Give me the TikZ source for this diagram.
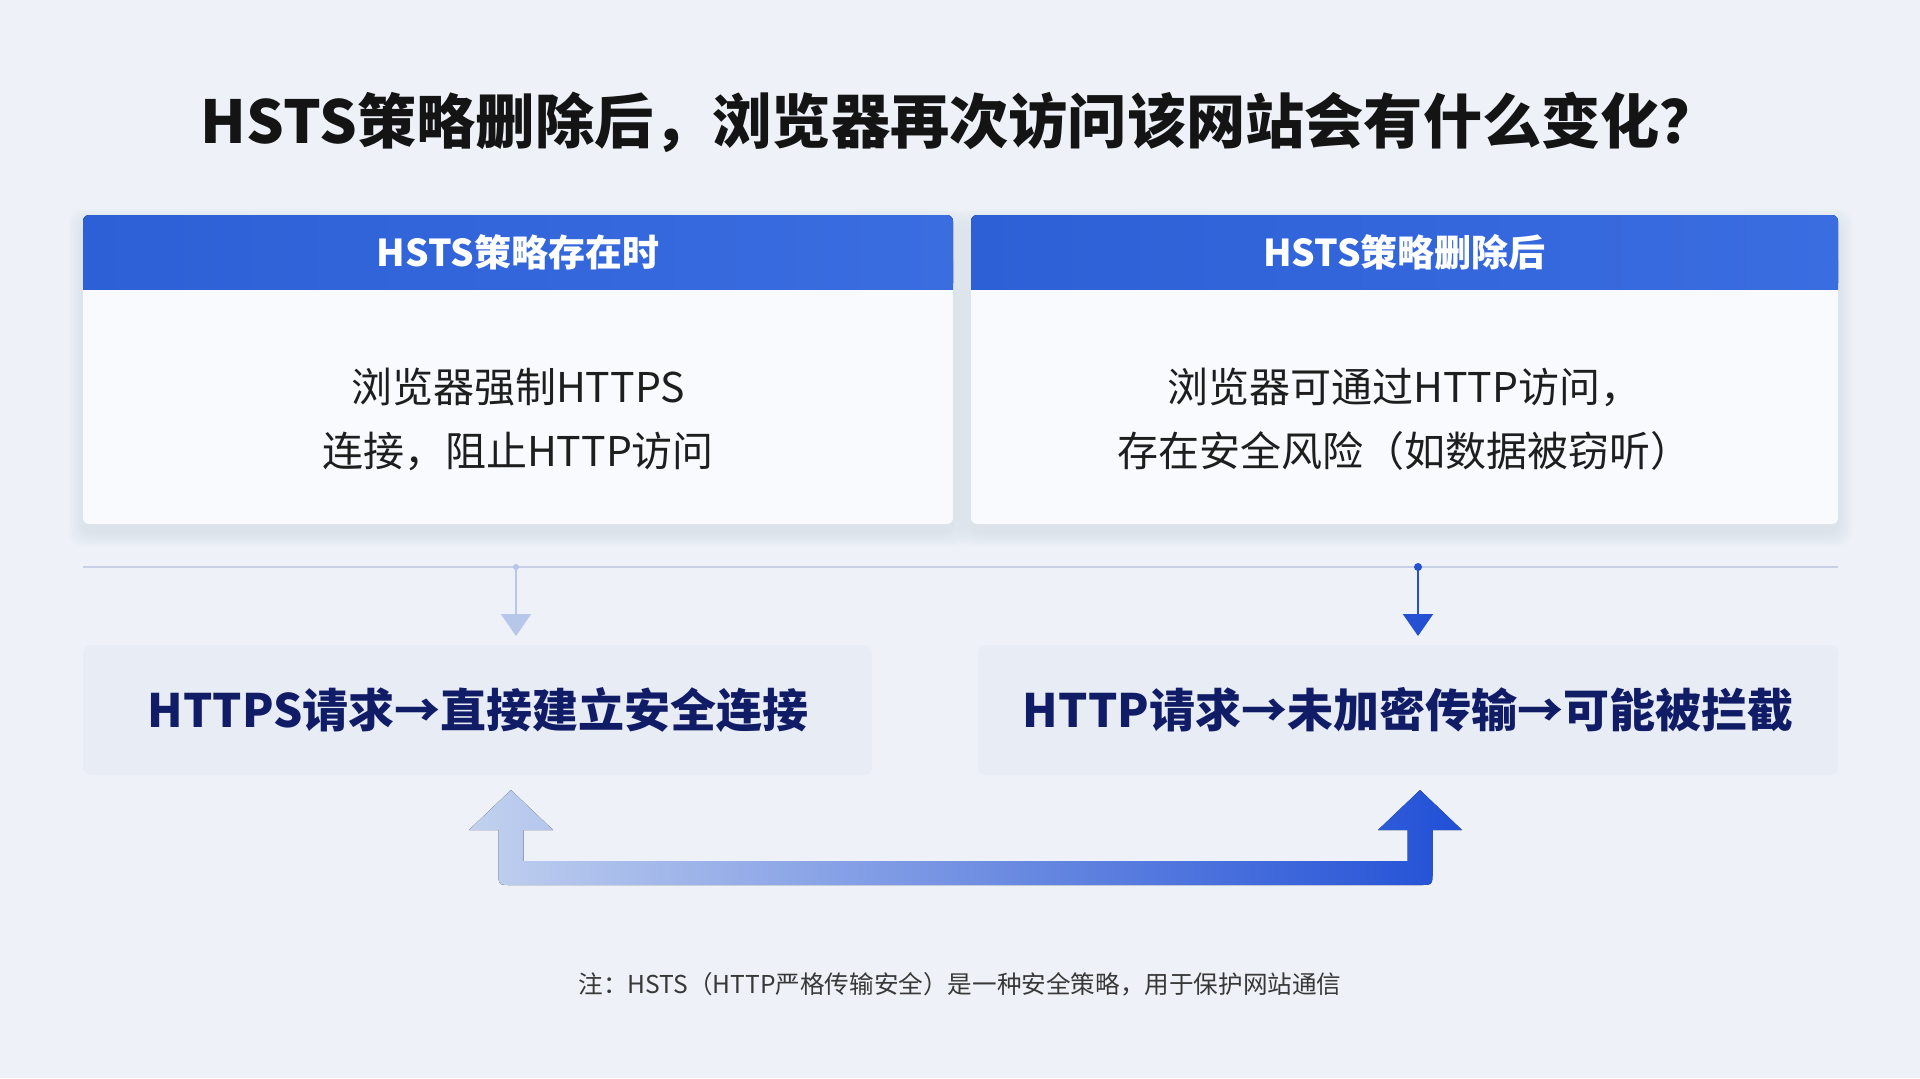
\documentclass[tikz,border=0pt]{standalone}
\usepackage{fontspec}
\setmainfont{Noto Sans CJK SC}
\usetikzlibrary{arrows.meta,positioning}
\definecolor{bgcol}{HTML}{EEF2F8}
\definecolor{cardcol}{HTML}{F8FAFD}
\definecolor{shadowcol}{HTML}{8E9BBB}
\definecolor{hdrL}{HTML}{2D5FD6}
\definecolor{hdrR}{HTML}{3A6DE0}
\definecolor{reqcol}{HTML}{E7ECF5}
\definecolor{navy}{HTML}{111C66}
\definecolor{ink}{HTML}{1E1E1E}
\definecolor{rulecol}{HTML}{C8D0E6}
\definecolor{paleblue}{HTML}{B6C7EA}
\definecolor{deepblue}{HTML}{2650D2}
\definecolor{uarrowL}{HTML}{C2D1EF}
\definecolor{uarrowM}{HTML}{8EACEB}
\definecolor{uarrowR}{HTML}{2150D6}
\def\titlesize{\fontsize{29.6}{34}\selectfont\bfseries}
\def\hdrsize{\fontsize{18.5}{22}\selectfont\bfseries}
\def\bodysize{\fontsize{20.5}{32}\selectfont}
\def\reqsize{\fontsize{23}{28}\selectfont\bfseries}
\def\notesize{\fontsize{12.3}{15}\selectfont}

\begin{document}
\begin{tikzpicture}[x=0.5pt,y=-0.5pt,
	hdrtext/.style={font=\hdrsize, text=white},
	cardtext/.style={font=\bodysize, text=ink, align=center},
	reqtext/.style={font=\reqsize, text=navy},
	tapline/.style={line width=1pt, -{Triangle[width=15pt,length=11pt]}}]
			%%%%% START %%%%%
			
			\useasboundingbox (0,0) rectangle (1920,1078);
			\fill[bgcol] (0,0) rectangle (1920,1078);
			
			\node[font=\titlesize, text=black!92] (title) at (960,122) {HSTS策略删除后，浏览器再次访问该网站会有什么变化？};
			
			% soft shadows under the two cards
			\foreach \s in {2,4,...,14} {
				\fill[shadowcol, opacity=0.022, rounded corners=6pt] (83-\s,215-\s+8) rectangle (953+\s,524+\s+8);
				\fill[shadowcol, opacity=0.022, rounded corners=6pt] (971-\s,215-\s+8) rectangle (1838+\s,524+\s+8);
			}
			
			\fill[cardcol, rounded corners=3pt] (83,215) rectangle (953,524);
			\fill[cardcol, rounded corners=3pt] (971,215) rectangle (1838,524);
			
			\fill[left color=hdrL, right color=hdrR, rounded corners=3pt] (83,215) rectangle (953,289);
			\fill[left color=hdrL, right color=hdrR] (83,260) rectangle (953,289);
			\fill[left color=hdrL, right color=hdrR, rounded corners=3pt] (971,215) rectangle (1838,289);
			\fill[left color=hdrL, right color=hdrR] (971,260) rectangle (1838,289);
			
			\node[hdrtext] (hdrLeft) at (518,252) {HSTS策略存在时};
			\node[hdrtext] (hdrRight) at (1404.5,252) {HSTS策略删除后};
			
			\node[cardtext] (bodyLeft) at (518,419) {浏览器强制HTTPS\\连接，阻止HTTP访问};
			\node[cardtext] (bodyRight) at (1404.5,419) {浏览器可通过HTTP访问，\\存在安全风险（如数据被窃听）};
			
			\draw[rulecol, line width=1pt] (83,567) -- (1838,567);
			
			\fill[reqcol, rounded corners=4pt] (83,645) rectangle (872,775);
			\fill[reqcol, rounded corners=4pt] (978,645) rectangle (1838,775);
			
			\node[reqtext] (reqLeft) at (478,710) {HTTPS请求→直接建立安全连接};
			\node[reqtext] (reqRight) at (1408,710) {HTTP请求→未加密传输→可能被拦截};
			
			\coordinate (tapLeft) at (516,567);
			\coordinate (tapRight) at (1418,567);
			\coordinate (dropLeft) at (516,636);
			\coordinate (dropRight) at (1418,636);
			\fill[paleblue] (tapLeft) circle (3);
			\fill[deepblue] (tapRight) circle (4);
			\draw[tapline, paleblue] (tapLeft) -- (dropLeft);
			\draw[tapline, deepblue] (tapRight) -- (dropRight);
			
			% the U-shaped return arrow
			\fill[left color=uarrowL, middle color=uarrowM, right color=uarrowR]
				(511,790) -- (553,830) -- (523.5,830) -- (523.5,861) -- (1407.5,861) -- (1407.5,830) -- (1378,830)
				-- (1420,790) -- (1462,830) -- (1432.5,830) -- (1432.5,872) .. controls (1432.5,885) .. (1419.5,885)
				-- (511.5,885) .. controls (498.5,885) .. (498.5,872) -- (498.5,830) -- (469,830) -- cycle;
			
			\node[font=\notesize, text=black!78] (note) at (960,984) {注：HSTS（HTTP严格传输安全）是一种安全策略，用于保护网站通信};
			
			%%%%% END %%%%%
		\end{tikzpicture}
\end{document}
